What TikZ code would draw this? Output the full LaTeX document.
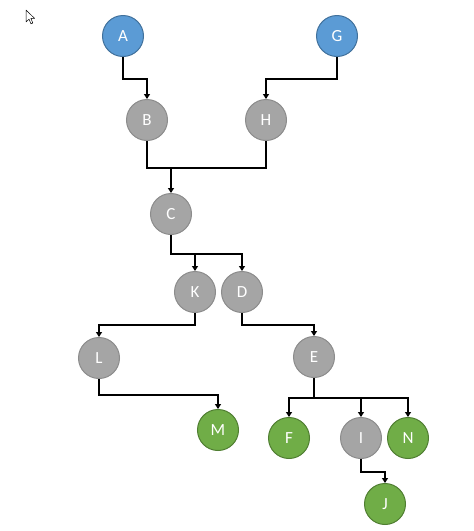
\documentclass[tikz,border=0pt]{standalone}
\usepackage{fontspec}
\setmainfont{Carlito}
\usetikzlibrary{arrows.meta}
\definecolor{bluefill}{HTML}{5B9BD5}
\definecolor{blueline}{HTML}{41719C}
\definecolor{grayfill}{HTML}{A5A5A5}
\definecolor{grayline}{HTML}{8C8C8C}
\definecolor{greenfill}{HTML}{70AD47}
\definecolor{greenline}{HTML}{507E32}
\tikzset{
  vtx/.style={circle, minimum size=41pt, inner sep=0pt, line width=1pt, text=white, font=\fontsize{17}{17}\selectfont},
  bluev/.style={vtx, fill=bluefill, draw=blueline},
  grayv/.style={vtx, fill=grayfill, draw=grayline},
  greenv/.style={vtx, fill=greenfill, draw=greenline},
  conn/.style={line width=2pt, black},
  arr/.style={conn, -{Triangle[length=5pt,width=6pt]}}
}
\begin{document}
\begin{tikzpicture}[x=1pt,y=-1pt]
\useasboundingbox (0,0) rectangle (474,531);
% cursor
\draw[black, line width=0.5pt, fill=white, line join=round]
  (26,10) -- (26,22) -- (29,19.2) -- (31,23.8) -- (32.8,23) -- (30.9,18.4) -- (34.6,18.4) -- cycle;
% nodes
\node[bluev] (A) at (123,36) {A};
\node[bluev] (G) at (337,36) {G};
\node[grayv] (B) at (147,120) {B};
\node[grayv] (H) at (266,120) {H};
\node[grayv] (C) at (171,214) {C};
\node[grayv] (K) at (195,292) {K};
\node[grayv] (D) at (242,292) {D};
\node[grayv] (L) at (99,358) {L};
\node[grayv] (E) at (314,357) {E};
\node[greenv] (M) at (218,430) {M};
\node[greenv] (F) at (289,438) {F};
\node[grayv] (I) at (361,438) {I};
\node[greenv] (N) at (408,438) {N};
\node[greenv] (J) at (385,504) {J};
% connectors
\draw[arr] (A.south) -- ++(0,22) -| (B.north);
\draw[arr] (G.south) -- ++(0,22) -| (H.north);
\draw[conn] (B.south) -- ++(0,26.5) coordinate (j1) -| (H.south);
\draw[arr] (j1 -| C.north) -- (C.north);
\draw[arr] (C.south) -- ++(0,18.5) coordinate (j2) -| (D.north);
\draw[arr] (j2 -| K.north) -- (K.north);
\draw[arr] (K.south) -- ++(0,12) -| (L.north);
\draw[arr] (D.south) -- ++(0,12) -| (E.north);
\draw[arr] (L.south) -- ++(0,15.5) -| (M.north);
\draw[conn] (E.south) -- ++(0,20) coordinate (j3);
\draw[arr] (j3) -| (F.north);
\draw[arr] (j3) -| (N.north);
\draw[arr] (j3 -| I.north) -- (I.north);
\draw[arr] (I.south) -- ++(0,12.5) -| (J.north);
\end{tikzpicture}
\end{document}
